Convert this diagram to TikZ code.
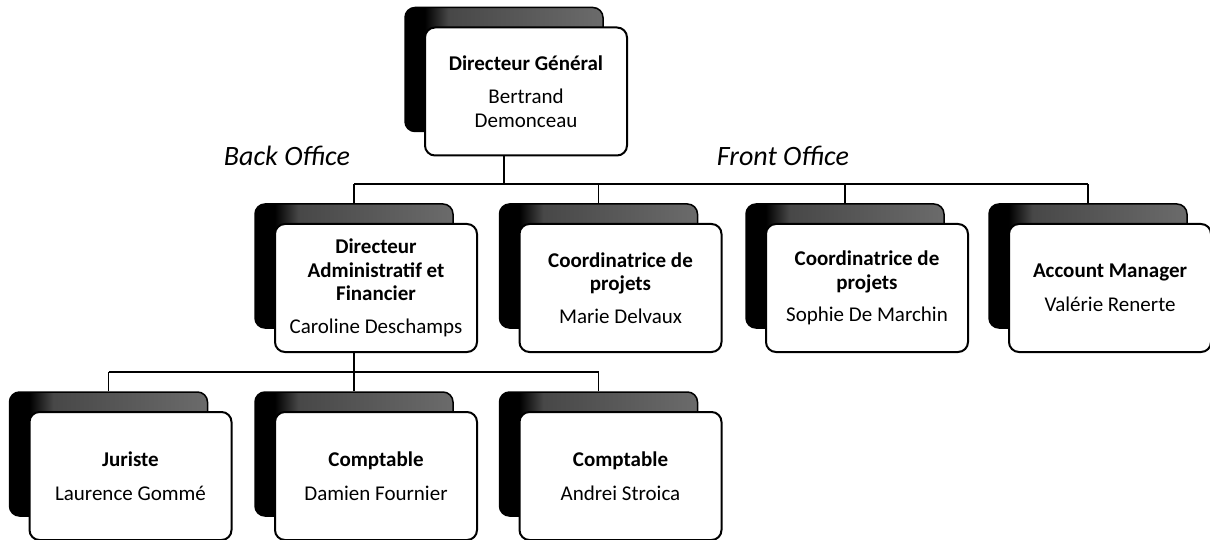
\documentclass[tikz,border=0pt]{standalone}
\usepackage{fontspec}
\setmainfont{Carlito}
\usetikzlibrary{calc,backgrounds}
\pgfdeclarehorizontalshading{backshade}{100bp}{color(0bp)=(black); color(25bp)=(black); color(30bp)=(black); color(36bp)=(black!72); color(75bp)=(black!58); color(100bp)=(black!58)}
\tikzset{
  backbox/.style={draw=black, line width=1.5pt, rounded corners=10pt, shading=backshade,
    minimum width=198pt, minimum height=124pt, inner sep=0pt},
  frontbox/.style={draw=black, line width=2pt, fill=white, rounded corners=10pt,
    minimum width=202pt, minimum height=128pt, inner sep=0pt, align=center,
    font=\fontsize{21}{23.5}\selectfont},
  conn/.style={line width=1.8pt},
  office/.style={font=\fontsize{28}{32}\selectfont\itshape, anchor=base, inner sep=0pt}
}
\newcommand\orgbox[4]{%
  \node[backbox] (#1b) at (#2,#3) {};
  \node[frontbox] (#1) at ($(#1b)+(22,22)$) {#4};}
\begin{document}
\begin{tikzpicture}[x=1pt,y=-1pt]
\useasboundingbox (0,0) rectangle (1210,540);
% boxes
\orgbox{dg}{504}{69.5}{\textbf{Directeur Général}\\[10pt]Bertrand\\Demonceau}
\orgbox{daf}{354}{266}{\textbf{Directeur}\\\textbf{Administratif et}\\\textbf{Financier}\\[9pt]Caroline Deschamps}
\orgbox{md}{598.5}{266}{\textbf{Coordinatrice de}\\\textbf{projets}\\[9pt]Marie Delvaux}
\orgbox{sd}{845}{266}{\textbf{Coordinatrice de}\\\textbf{projets}\\[9pt]Sophie De Marchin}
\orgbox{am}{1088}{266}{\textbf{Account Manager}\\[10pt]Valérie Renerte}
\orgbox{ju}{108.5}{454}{\textbf{Juriste}\\[10pt]Laurence Gommé}
\orgbox{c1}{354}{454}{\textbf{Comptable}\\[10pt]Damien Fournier}
\orgbox{c2}{598.5}{454}{\textbf{Comptable}\\[10pt]Andrei Stroica}
% labels
\node[office] (bo) at (287,166) {Back Office};
\node[office] (fo) at (783,166) {Front Office};
% connectors
\begin{scope}[on background layer]
\coordinate (bus1) at (0,184);
\coordinate (bus2) at (0,372);
\draw[conn] (dgb.center) -- (dgb.center |- bus1);
\draw[conn] (dafb.north |- bus1) -- (amb.north |- bus1);
\draw[conn] (dafb.north) -- (dafb.north |- bus1);
\draw[conn] (mdb.north) -- (mdb.north |- bus1);
\draw[conn] (sdb.north) -- (sdb.north |- bus1);
\draw[conn] (amb.north) -- (amb.north |- bus1);
\draw[conn] (dafb.center) -- (dafb.center |- bus2);
\draw[conn] (jub.north |- bus2) -- (c2b.north |- bus2);
\draw[conn] (jub.north) -- (jub.north |- bus2);
\draw[conn] (c1b.north) -- (c1b.north |- bus2);
\draw[conn] (c2b.north) -- (c2b.north |- bus2);
\end{scope}
\end{tikzpicture}
\end{document}
